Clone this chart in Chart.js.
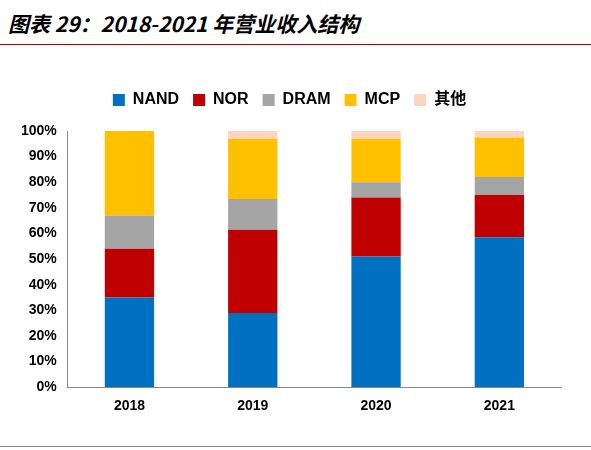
<!DOCTYPE html>
<html><head><meta charset="utf-8">
<script src="https://cdn.jsdelivr.net/npm/chart.js@4"></script>
<style>
body{margin:0;width:591px;height:450px;background:#fff;font-family:"Noto Sans CJK SC",sans-serif;position:relative;overflow:hidden}
#t{position:absolute;left:8px;top:8px;font-size:21px;font-style:italic;font-weight:bold;color:#000}
#l1{position:absolute;left:0;top:44px;width:591px;height:1px;background:#b00000}
#l2{position:absolute;left:0;top:446px;width:591px;height:1px;background:#888}
#c{position:absolute;left:0;top:78px;width:591px;height:340px}
</style></head><body>
<div id="t">图表 29：2018-2021 年营业收入结构</div>
<div id="l1"></div><div id="l2"></div>
<div id="c"><canvas id="cv"></canvas></div>
<script>
const categories=["2018","2019","2020","2021"];
const NAND=[35,29,51,58.5];
const NOR=[19,32.5,23,16.5];
const DRAM=[13,12,6,7];
const MCP=[33,23.5,17,15.5];
const OTHER=[0,3,3,2.5];
const yTicks=[0,10,20,30,40,50,60,70,80,90,100];
const mk=(l,d,c)=>({label:l,data:d,backgroundColor:c,barPercentage:0.4,categoryPercentage:1});
new Chart(document.getElementById('cv'),{type:'bar',
data:{labels:categories,datasets:[mk('NAND',NAND,'#0070c0'),mk('NOR',NOR,'#c00000'),mk('DRAM',DRAM,'#a5a5a5'),mk('MCP',MCP,'#ffc000'),mk('其他',OTHER,'#fbd5c0')]},
options:{responsive:true,maintainAspectRatio:false,animation:false,
layout:{padding:{left:18,right:30,top:0,bottom:0}},
plugins:{legend:{labels:{boxWidth:12,boxHeight:12,font:{size:16,weight:'bold',family:'Arial, Liberation Sans, Noto Sans CJK SC'},color:'#000',padding:14}},tooltip:{enabled:false}}},
plugins:[{id:'lp',beforeInit(c){const f=c.legend.fit;c.legend.fit=function(){f.bind(c.legend)();this.height+=13;}}}],
scales:{}});
</script>
<script>
const ch=Chart.getChart('cv');
ch.options.scales={x:{stacked:true,grid:{display:false},border:{color:'#888'},ticks:{font:{size:14,weight:'bold',family:'Liberation Sans'},color:'#000'}},
y:{stacked:true,min:0,max:100,afterBuildTicks:a=>{a.ticks=yTicks.map(v=>({value:v}))},grid:{display:false},border:{color:'#888'},ticks:{callback:v=>v+'%',font:{size:14,weight:'bold',family:'Liberation Sans'},color:'#000'}}};
ch.update();
</script></body></html>
